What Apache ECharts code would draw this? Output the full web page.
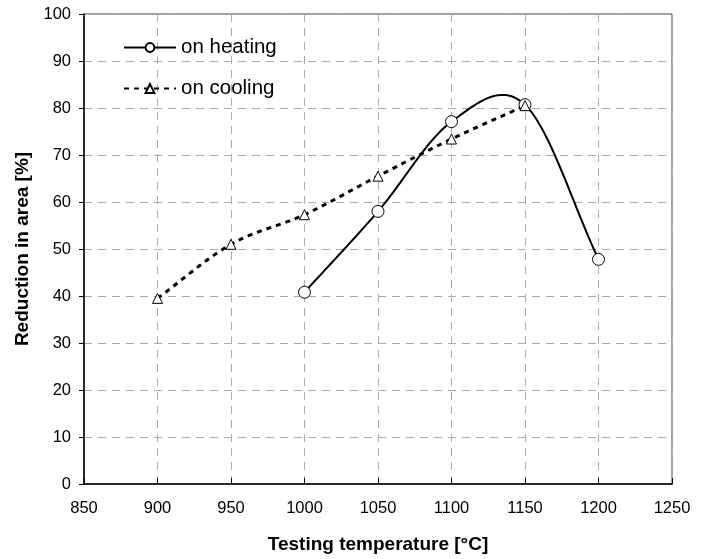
<!DOCTYPE html>
<html>
<head>
<meta charset="utf-8">
<script src="https://cdn.jsdelivr.net/npm/echarts@6/dist/echarts.min.js"></script>
<style>
  html, body { margin: 0; padding: 0; background: #fff; }
  #myChart { width: 701px; height: 559px; }
</style>
</head>
<body>
<div id="myChart"></div>
<script>
// heating / cooling data
var heatingTemp = [1000, 1050, 1100, 1150, 1200];
var heatingRA = [40.8, 58, 77.1, 80.7, 47.8];
var coolingTemp = [900, 950, 1000, 1050, 1100, 1150];
var coolingRA = [39.5, 51, 57.3, 65.5, 73.4, 80.5];

function pairs(xs, ys) {
    var out = [];
    for (var i = 0; i < xs.length; i++) out.push([xs[i], ys[i]]);
    return out;
}

// Catmull-Rom curve (excel smoothed line), sampled in pixel space
function splinePoints(api, xs, ys) {
    var p = [];
    for (var i = 0; i < xs.length; i++) p.push(api.coord([xs[i], ys[i]]));
    var n = p.length;
    var ext = [[2 * p[0][0] - p[1][0], 2 * p[0][1] - p[1][1]]].concat(p);
    ext.push([2 * p[n - 1][0] - p[n - 2][0], 2 * p[n - 1][1] - p[n - 2][1]]);
    var pts = [p[0]];
    for (var k = 1; k < ext.length - 2; k++) {
        var p0 = ext[k - 1], p1 = ext[k], p2 = ext[k + 1], p3 = ext[k + 2];
        var c1 = [p1[0] + (p2[0] - p0[0]) / 6, p1[1] + (p2[1] - p0[1]) / 6];
        var c2 = [p2[0] - (p3[0] - p1[0]) / 6, p2[1] - (p3[1] - p1[1]) / 6];
        for (var s = 1; s <= 30; s++) {
            var t = s / 30, u = 1 - t;
            pts.push([
                u * u * u * p1[0] + 3 * u * u * t * c1[0] + 3 * u * t * t * c2[0] + t * t * t * p2[0],
                u * u * u * p1[1] + 3 * u * u * t * c1[1] + 3 * u * t * t * c2[1] + t * t * t * p2[1]
            ]);
        }
    }
    return pts;
}

function curveSeries(name, xs, ys, style) {
    return {
        name: name,
        type: 'custom',
        silent: true,
        z: 1,
        data: [[xs[0], ys[0]]],
        renderItem: function (params, api) {
            return {
                type: 'polyline',
                shape: { points: splinePoints(api, xs, ys) },
                style: style
            };
        }
    };
}

var myChart = echarts.init(document.getElementById('myChart'));
var font = 'Liberation Sans, Arial, sans-serif';

var option = {
    animation: false,
    textStyle: { fontFamily: font },
    grid: {
        left: 84,
        right: 29,
        top: 14,
        bottom: 74,
        show: true,
        borderColor: '#444',
        borderWidth: 1
    },
    legend: {
        left: 118,
        top: 32,
        orient: 'vertical',
        itemGap: 20,
        itemWidth: 52,
        itemHeight: 11,
        textStyle: { fontSize: 20.5, color: '#000', fontFamily: font },
        data: [
            { name: 'on heating', lineStyle: { opacity: 1 } },
            { name: 'on cooling', lineStyle: { opacity: 1 } }
        ]
    },
    xAxis: {
        type: 'value',
        min: 850,
        max: 1250,
        interval: 50,
        name: 'Testing temperature [°C]',
        nameLocation: 'middle',
        nameGap: 51,
        nameTextStyle: { fontSize: 19, fontWeight: 'bold', color: '#000' },
        axisLine: { show: true, lineStyle: { color: '#000', width: 1.5 } },
        axisTick: { show: true, inside: true, length: 6, lineStyle: { color: '#000' } },
        axisLabel: { fontSize: 16.5, color: '#000', margin: 16, formatter: function (v) { return String(v); } },
        splitLine: { show: true, lineStyle: { color: '#aaa', type: [8, 6] } }
    },
    yAxis: {
        type: 'value',
        min: 0,
        max: 100,
        interval: 10,
        name: 'Reduction in area [%]',
        nameLocation: 'middle',
        nameGap: 51,
        nameTextStyle: { fontSize: 19, fontWeight: 'bold', color: '#000' },
        axisLine: { show: true, lineStyle: { color: '#000', width: 1.5 } },
        axisTick: { show: true, length: 5, lineStyle: { color: '#000' } },
        axisLabel: { fontSize: 16.5, color: '#000', margin: 13 },
        splitLine: { show: true, lineStyle: { color: '#aaa', type: [8, 6] } }
    },
    series: [{
        name: 'on heating',
        type: 'line',
        data: pairs(heatingTemp, heatingRA),
        symbol: 'circle',
        symbolSize: 12,
        lineStyle: { color: '#000', width: 2, opacity: 0 },
        itemStyle: { color: '#fff', borderColor: '#000', borderWidth: 1 },
        z: 3
    }, {
        name: 'on cooling',
        type: 'line',
        data: pairs(coolingTemp, coolingRA),
        symbol: 'triangle',
        symbolSize: 10,
        lineStyle: { color: '#000', width: 3, type: [5, 5], opacity: 0 },
        itemStyle: { color: '#fff', borderColor: '#000', borderWidth: 1 },
        z: 3
    },
    curveSeries('heating curve', heatingTemp, heatingRA, { stroke: '#000', lineWidth: 2, fill: null }),
    curveSeries('cooling curve', coolingTemp, coolingRA, { stroke: '#000', lineWidth: 3, lineDash: [5, 5], fill: null })
    ]
};
myChart.setOption(option, true);
</script>
</body>
</html>
